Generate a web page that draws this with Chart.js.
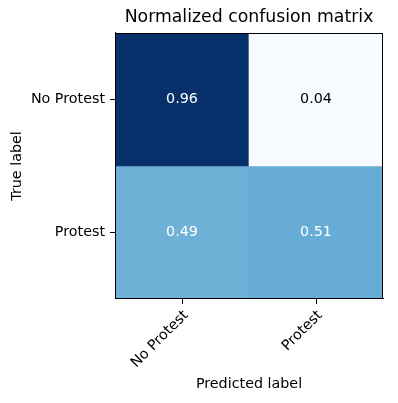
<!DOCTYPE html>
<html>
<head>
<meta charset="utf-8">
<script src="https://cdn.jsdelivr.net/npm/chart.js@4/dist/chart.umd.min.js"></script>
<style>
html,body{margin:0;padding:0;background:#fff;}
canvas{display:block;}
</style>
</head>
<body>
<canvas id="c" width="398" height="403"></canvas>
<script>
// ---- data ----
const predictedLabels = ['No Protest', 'Protest'];
const trueLabels = ['No Protest', 'Protest'];
const rowNoProtest = [0.96, 0.04];
const rowProtest = [0.49, 0.51];
const matrix = [rowNoProtest, rowProtest];

const FONT = "'DejaVu Sans', sans-serif";
const FS = 14.3;
const blues = ['#f7fbff','#deebf7','#c6dbef','#9ecae1','#6baed6','#4292c6','#2171b5','#08519c','#08306b'];
function hex(c){return [parseInt(c.slice(1,3),16),parseInt(c.slice(3,5),16),parseInt(c.slice(5,7),16)];}
const allVals = matrix.flat();
const vmin = Math.min(...allVals), vmax = Math.max(...allVals);
function cmap(v){
  let t = (v - vmin) / (vmax - vmin);
  t = Math.max(0, Math.min(1, t));
  const p = t * (blues.length - 1);
  const i = Math.min(Math.floor(p), blues.length - 2);
  const f = p - i;
  const a = hex(blues[i]), b = hex(blues[i+1]);
  const c = a.map((x,k)=>Math.round(x + (b[k]-x)*f));
  return 'rgb(' + c.join(',') + ')';
}
const thresh = vmax / 2;

const datasets = matrix.map((row, r) => ({
  label: trueLabels[r],
  data: row.map(() => [r - 0.5, r + 0.5]),
  values: row,
  backgroundColor: row.map(cmap),
  borderWidth: 0,
  barPercentage: 1,
  categoryPercentage: 1,
  grouped: false
}));

const cellText = {
  id: 'cellText',
  afterDatasetsDraw(chart){
    const ctx = chart.ctx;
    ctx.save();
    ctx.font = FS + 'px ' + FONT;
    ctx.textAlign = 'center';
    ctx.textBaseline = 'middle';
    chart.data.datasets.forEach((ds, di) => {
      const meta = chart.getDatasetMeta(di);
      meta.data.forEach((el, i) => {
        const v = ds.values[i];
        const cy = (el.y + el.base) / 2;
        ctx.fillStyle = v > thresh ? '#ffffff' : '#000000';
        ctx.fillText(v.toFixed(2), el.x, cy);
      });
    });
    ctx.restore();
  }
};
const frame = {
  id: 'frame',
  afterDraw(chart){
    const a = chart.chartArea, ctx = chart.ctx;
    ctx.save();
    ctx.strokeStyle = '#000';
    ctx.lineWidth = 1;
    ctx.strokeRect(Math.round(a.left)+0.5, Math.round(a.top)+0.5, Math.round(a.right-a.left)-1, Math.round(a.bottom-a.top)-1);
    ctx.restore();
  }
};

new Chart(document.getElementById('c'), {
  type: 'bar',
  data: { labels: predictedLabels, datasets },
  options: {
    responsive: false,
    animation: false,
    layout: { padding: { left: 0, right: 15, top: 0, bottom: 0 } },
    plugins: {
      legend: { display: false },
      tooltip: { enabled: false },
      title: {
        display: true,
        text: 'Normalized confusion matrix',
        fullSize: false,
        color: '#000',
        font: { family: FONT, size: 17.3, weight: 'normal', lineHeight: 1.2 },
        padding: { top: 7.2, bottom: 5.0 }
      }
    },
    scales: {
      x: {
        type: 'category',
        offset: true,
        grid: { display: true, drawOnChartArea: false, drawTicks: true, tickLength: 5, color: '#000', offset: false },
        border: { display: true, color: '#000', width: 1 },
        ticks: { color: '#000', font: { family: FONT, size: FS }, maxRotation: 45, minRotation: 45, padding: 3, labelOffset: 4, autoSkip: false },
        title: { display: true, text: 'Predicted label', color: '#000', font: { family: FONT, size: FS }, padding: { top: 0, bottom: 10.2 } },
        afterFit(s){ s.height = 104; s.paddingLeft = 0; s.paddingRight = 0; }
      },
      y: {
        type: 'linear',
        reverse: true,
        min: -0.5,
        max: 1.5,
        afterBuildTicks(s){ s.ticks = trueLabels.map((_, i) => ({ value: i })); },
        grid: { display: true, drawOnChartArea: false, drawTicks: true, tickLength: 5, color: '#000' },
        border: { display: true, color: '#000', width: 1 },
        ticks: { color: '#000', font: { family: FONT, size: FS }, padding: 5, autoSkip: false,
                 callback: (v) => trueLabels[v] },
        title: { display: true, text: 'True label', color: '#000', font: { family: FONT, size: FS }, padding: { top: 8.4, bottom: 0 } },
        afterFit(s){ s.width = 115; s.paddingTop = 0; s.paddingBottom = 0; }
      }
    }
  },
  plugins: [cellText, frame]
});
</script>
</body>
</html>
